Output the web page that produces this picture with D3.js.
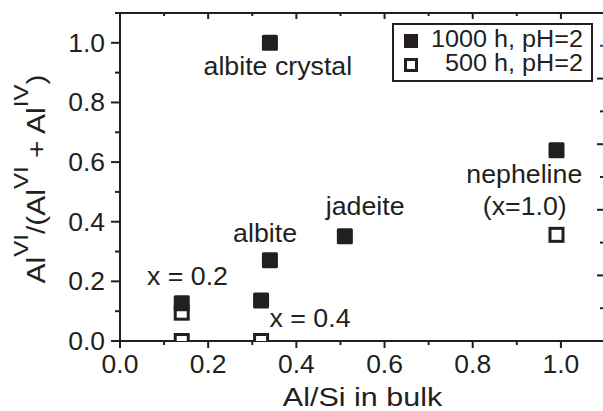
<!DOCTYPE html>
<html>
<head>
<meta charset="utf-8">
<script src="https://cdn.jsdelivr.net/npm/d3@7"></script>
<style>
  html, body { margin: 0; padding: 0; background: #fff; }
  svg text { font-family: "Liberation Sans", Arial, sans-serif; fill: #231f20; }
</style>
</head>
<body>
<div id="chart"></div>
<script>
// Al(VI) fraction vs Al/Si ratio
const alSi1000 = [0.34, 0.14, 0.32, 0.34, 0.51, 0.99];
const alVI1000 = [1.0, 0.127, 0.136, 0.271, 0.351, 0.64];
const alSi500 = [0.14, 0.14, 0.32, 0.99];
const alVI500 = [0.095, 0.0, 0.0, 0.356];

const legendLabels = ["1000 h, pH=2", "500 h, pH=2"];
const xTicks = [0.0, 0.2, 0.4, 0.6, 0.8, 1.0];
const yTicks = [0.0, 0.2, 0.4, 0.6, 0.8, 1.0];

// annotation texts and their anchor points (data units, text baseline)
const noteTexts = ["albite crystal", "albite", "jadeite", "nepheline", "(x=1.0)", "x = 0.2", "x = 0.4"];
const noteX = [0.358, 0.329, 0.556, 0.917, 0.918, 0.153, 0.431];
const noteY = [0.893, 0.332, 0.423, 0.529, 0.423, 0.188, 0.046];

const W = 603, H = 411;
const margin = {top: 13, right: -2, bottom: 70, left: 120};
const width = W - margin.left - margin.right;
const height = H - margin.top - margin.bottom;
const ink = "#231f20";

const svg = d3.select("#chart").append("svg")
  .attr("width", W).attr("height", H);

const g = svg.append("g")
  .attr("transform", `translate(${margin.left},${margin.top})`);

const x = d3.scaleLinear().domain([0, 1.1]).range([0, width]);
const y = d3.scaleLinear().domain([0, 1.1]).range([height, 0]);
const yRight = d3.scaleLinear().domain([0, 1]).range([height, 0]);

// the reference font is a bit wider than Liberation Sans
function place(sel, px, py, sx) {
  return sel.attr("transform", (d, i) => {
    const p = typeof px === "function" ? px(d, i) : px;
    const q = typeof py === "function" ? py(d, i) : py;
    return `translate(${p},${q}) scale(${sx},1)`;
  });
}

g.append("clipPath").attr("id", "plotClip")
  .append("rect").attr("x", 0).attr("y", 0).attr("width", width).attr("height", height);

const minorX = d3.range(0, 1.11, 0.1);
const minorY = d3.range(0, 1.11, 0.1);
const isMajor = v => Math.abs(v * 5 - Math.round(v * 5)) < 1e-6;

// bottom axis (outward ticks)
const bottom = g.append("g").attr("transform", `translate(0,${height})`);
bottom.selectAll("line.tick").data(minorX).enter().append("line")
  .attr("x1", d => x(d)).attr("x2", d => x(d))
  .attr("y1", 0).attr("y2", d => isMajor(d) ? 7 : 4)
  .attr("stroke", ink).attr("stroke-width", 2);
place(bottom.selectAll("text").data(xTicks).enter().append("text"), d => x(d), 32, 1.06)
  .attr("text-anchor", "middle").style("font-size", "25px")
  .text(d => d.toFixed(1));

// top axis (inward ticks)
g.append("g").selectAll("line").data(minorX).enter().append("line")
  .attr("x1", d => x(d)).attr("x2", d => x(d))
  .attr("y1", 0).attr("y2", d => isMajor(d) ? 6 : 3)
  .attr("stroke", ink).attr("stroke-width", 2);

// left axis (outward ticks)
const left = g.append("g");
left.selectAll("line").data(minorY).enter().append("line")
  .attr("x1", d => isMajor(d) ? -9 : -5).attr("x2", 0)
  .attr("y1", d => y(d)).attr("y2", d => y(d))
  .attr("stroke", ink).attr("stroke-width", 2);
place(left.selectAll("text").data(yTicks).enter().append("text"), -15, d => y(d) + 9, 1.06)
  .attr("text-anchor", "end").style("font-size", "25px")
  .text(d => d.toFixed(1));

// right axis (inward ticks, separate scale)
const rightTicks = d3.range(0, 1.01, 0.1);
g.append("g").attr("transform", `translate(${width},0)`)
  .selectAll("line").data(rightTicks).enter().append("line")
  .attr("x1", (d, i) => i % 2 === 0 ? -8 : -5).attr("x2", 0)
  .attr("y1", d => yRight(d)).attr("y2", d => yRight(d))
  .attr("stroke", (d, i) => i === 9 ? "#3040a0" : ink).attr("stroke-width", 2);

// frame
g.append("rect").attr("x", 0).attr("y", 0).attr("width", width).attr("height", height)
  .attr("fill", "none").attr("stroke", ink).attr("stroke-width", 2);

// axis titles
place(svg.append("text"), margin.left + x(0.55), 406, 1.22)
  .attr("text-anchor", "middle").style("font-size", "25px")
  .text("Al/Si in bulk");

const yLab = svg.append("text")
  .attr("transform", "translate(45,179) rotate(-90) scale(1.2,1)")
  .attr("text-anchor", "middle").style("font-size", "25px");
const parts = [["Al", false], ["VI", true], ["/(Al", false], ["VI", true], [" + Al", false], ["IV", true], [")", false]];
parts.forEach((p, k) => {
  yLab.append("tspan")
    .attr("dy", p[1] ? -17 : (k === 0 ? 0 : 17))
    .style("font-size", p[1] ? "20px" : null)
    .text(p[0]);
});

// markers
const plot = g.append("g").attr("clip-path", "url(#plotClip)");
const sz = 16;
plot.selectAll("rect.open").data(alSi500).enter().append("rect")
  .attr("class", "open")
  .attr("x", d => x(d) - sz / 2 + 1.5)
  .attr("y", (d, i) => y(alVI500[i]) - sz / 2 + 1.5)
  .attr("width", sz - 3).attr("height", sz - 3)
  .attr("fill", "#fff").attr("stroke", ink).attr("stroke-width", 3);
plot.selectAll("rect.filled").data(alSi1000).enter().append("rect")
  .attr("class", "filled")
  .attr("x", d => x(d) - sz / 2)
  .attr("y", (d, i) => y(alVI1000[i]) - sz / 2)
  .attr("width", sz).attr("height", sz).attr("rx", 1.5)
  .attr("fill", ink);

// annotations
place(g.selectAll("text.note").data(noteTexts).enter().append("text").attr("class", "note"),
      (d, i) => x(noteX[i]), (d, i) => y(noteY[i]), 1.07)
  .attr("text-anchor", "middle").style("font-size", "25px")
  .text(d => d);

// legend
const legend = svg.append("g");
legend.append("rect").attr("x", 393).attr("y", 24).attr("width", 199).attr("height", 57)
  .attr("fill", "#fff").attr("stroke", ink).attr("stroke-width", 2);
const rowY = [41, 65];
legend.append("rect").attr("x", 404).attr("y", rowY[0] - 7).attr("width", 14).attr("height", 14)
  .attr("fill", ink);
legend.append("rect").attr("x", 405.5).attr("y", rowY[1] - 5.5).attr("width", 11).attr("height", 11)
  .attr("fill", "#fff").attr("stroke", ink).attr("stroke-width", 3);
place(legend.selectAll("text").data(legendLabels).enter().append("text"),
      583, (d, i) => rowY[i] + 6, 1.05)
  .attr("text-anchor", "end").style("font-size", "24px")
  .text(d => d);
</script>
</body>
</html>
